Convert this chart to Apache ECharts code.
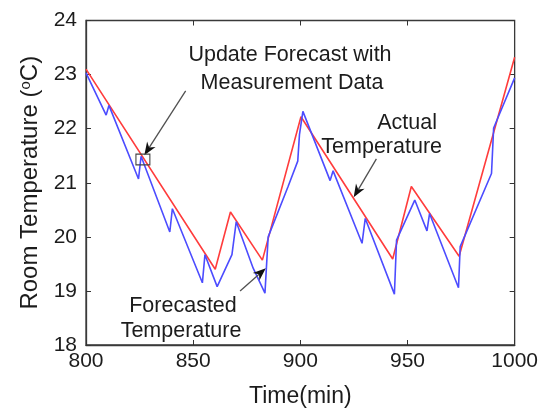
<!DOCTYPE html>
<html>
<head>
<meta charset="utf-8">
<script src="https://cdn.jsdelivr.net/npm/echarts@6/dist/echarts.min.js"></script>
<style>
  html, body { margin: 0; padding: 0; background: #ffffff; }
  #chart { width: 541px; height: 413px; }
</style>
</head>
<body>
<div id="chart"></div>
<script>
// Axis ticks
const xTicks = [800, 850, 900, 950, 1000];
const yTicks = [18, 19, 20, 21, 22, 23, 24];

// Actual room temperature (red)
const timeActual = [800, 860.3, 867.4, 882.3, 900.3, 943.1, 951.8, 974.1, 1000];
const tempActual = [23.1, 19.4, 20.46, 19.57, 22.22, 19.59, 20.93, 19.64, 23.32];

// Forecasted temperature (blue), reset to measurements at each update
const timeForecast = [800, 809.4, 810.7, 824.5, 825.7, 839.1, 840.3, 854.3, 855.5, 861.2,
  868.1, 870.1, 878, 883.5, 885, 894.2, 898.8, 899.6, 901.2, 913.9, 915.3, 928.8, 930.3,
  943.9, 944.9, 953.4, 959.1, 960.3, 973.8, 974.6, 989.2, 990.2, 992.3, 1000];
const tempForecast = [23.03, 22.25, 22.43, 21.07, 21.49, 20.09, 20.52, 19.15, 19.67, 19.08,
  19.67, 20.28, 19.42, 18.96, 20.0, 20.92, 21.40, 21.89, 22.32, 21.04, 21.22, 19.88, 20.34,
  18.94, 19.94, 20.68, 20.11, 20.43, 19.06, 19.82, 21.17, 22.01, 22.21, 22.94];

// Annotation arrows: [fromTime, fromTemp, toTime, toTemp]
const arrows = [
  [846.5, 22.70, 827.2, 21.51],
  [935.5, 21.44, 924.9, 20.73],
  [871.9, 19.00, 883.9, 19.42]
];
// Highlighted update point box: [t0, T0, t1, T1]
const updateBox = [[823.3, 21.33, 829.8, 21.53]];

const FONT = '"Liberation Sans", Arial, sans-serif';
const TXT = '#1c1c1c';

const chart = echarts.init(document.getElementById('chart'));

function zip(xs, ys) { return xs.map((x, i) => [x, ys[i]]); }

function renderArrow(params, api) {
  const p0 = api.coord([api.value(0), api.value(1)]);
  const p1 = api.coord([api.value(2), api.value(3)]);
  const dx = p1[0] - p0[0], dy = p1[1] - p0[1];
  const len = Math.hypot(dx, dy);
  const ux = dx / len, uy = dy / len;
  const L = 13, W = 5, N = 9;
  const bx = p1[0] - ux * L, by = p1[1] - uy * L;
  const nx = p1[0] - ux * N, ny = p1[1] - uy * N;
  return {
    type: 'group',
    children: [
      { type: 'line', shape: { x1: p0[0], y1: p0[1], x2: nx, y2: ny },
        style: { stroke: '#505050', lineWidth: 1.3 } },
      { type: 'polygon',
        shape: { points: [p1, [bx - uy * W, by + ux * W], [nx, ny], [bx + uy * W, by - ux * W]] },
        style: { fill: '#111111' } }
    ]
  };
}

function renderBox(params, api) {
  const a = api.coord([api.value(0), api.value(1)]);
  const b = api.coord([api.value(2), api.value(3)]);
  return {
    type: 'rect',
    shape: { x: Math.min(a[0], b[0]), y: Math.min(a[1], b[1]),
             width: Math.abs(b[0] - a[0]), height: Math.abs(b[1] - a[1]) },
    style: { fill: 'none', stroke: '#444444', lineWidth: 1.1 }
  };
}

const tickStyle = { show: true, inside: true, length: 5, lineStyle: { color: '#333', width: 1 } };

const option = {
  animation: false,
  backgroundColor: '#ffffff',
  grid: { left: 86, right: 21, top: 20.5, bottom: 63, show: true,
          borderColor: '#3a3a3a', borderWidth: 1.3, backgroundColor: '#ffffff' },
  xAxis: [
    { type: 'value', min: xTicks[0], max: xTicks[xTicks.length - 1], interval: 50,
      name: 'Time(min)', nameLocation: 'middle', nameGap: 40,
      nameTextStyle: { fontFamily: FONT, fontSize: 23, color: TXT },
      axisLine: { show: true, lineStyle: { color: '#3a3a3a', width: 1.3 } },
      axisTick: tickStyle, splitLine: { show: false },
      axisLabel: { fontFamily: FONT, fontSize: 21, color: TXT, margin: 6,
                   formatter: v => String(v) } },
    { type: 'value', position: 'top', min: xTicks[0], max: xTicks[xTicks.length - 1], interval: 50,
      axisLine: { show: false }, axisTick: tickStyle, axisLabel: { show: false }, splitLine: { show: false } }
  ],
  yAxis: [
    { type: 'value', min: yTicks[0], max: yTicks[yTicks.length - 1], interval: 1,
      name: '{t|Room Temperature (}{s|o}{t|C)}', nameLocation: 'middle', nameGap: 44, nameRotate: 90,
      nameTextStyle: { fontFamily: FONT, color: TXT,
        rich: { t: { fontFamily: FONT, fontSize: 24, color: TXT, verticalAlign: 'bottom' },
                s: { fontFamily: FONT, fontSize: 15, color: TXT, verticalAlign: 'top' } } },
      axisLine: { show: true, lineStyle: { color: '#3a3a3a', width: 1.3 } },
      axisTick: tickStyle, splitLine: { show: false },
      axisLabel: { fontFamily: FONT, fontSize: 21, color: TXT, margin: 9 } },
    { type: 'value', position: 'right', min: yTicks[0], max: yTicks[yTicks.length - 1], interval: 1,
      axisLine: { show: false }, axisTick: tickStyle, axisLabel: { show: false }, splitLine: { show: false } }
  ],
  series: [
    { name: 'Actual Temperature', type: 'line', data: zip(timeActual, tempActual),
      showSymbol: false, lineStyle: { color: '#ff3c3c', width: 1.6 }, z: 3 },
    { name: 'Forecasted Temperature', type: 'line', data: zip(timeForecast, tempForecast),
      showSymbol: false, lineStyle: { color: '#4c4cff', width: 1.6 }, z: 4 },
    { type: 'custom', renderItem: renderArrow, data: arrows, clip: false,
      encode: { x: [0, 2], y: [1, 3] }, z: 6 },
    { type: 'custom', renderItem: renderBox, data: updateBox, clip: false,
      encode: { x: [0, 2], y: [1, 3] }, z: 6 }
  ],
  graphic: [
    { type: 'text', x: 290, y: 55, style: { text: 'Update Forecast with', font: '21.5px ' + FONT, fill: TXT, textAlign: 'center', textVerticalAlign: 'middle' } },
    { type: 'text', x: 292, y: 83, style: { text: 'Measurement Data', font: '21.5px ' + FONT, fill: TXT, textAlign: 'center', textVerticalAlign: 'middle' } },
    { type: 'text', x: 437, y: 123, style: { text: 'Actual', font: '21.5px ' + FONT, fill: TXT, textAlign: 'right', textVerticalAlign: 'middle' } },
    { type: 'text', x: 442, y: 147, style: { text: 'Temperature', font: '21.5px ' + FONT, fill: TXT, textAlign: 'right', textVerticalAlign: 'middle' } },
    { type: 'text', x: 183, y: 306, style: { text: 'Forecasted', font: '21.5px ' + FONT, fill: TXT, textAlign: 'center', textVerticalAlign: 'middle' } },
    { type: 'text', x: 181, y: 331, style: { text: 'Temperature', font: '21.5px ' + FONT, fill: TXT, textAlign: 'center', textVerticalAlign: 'middle' } }
  ]
};

chart.setOption(option);
</script>
</body>
</html>
